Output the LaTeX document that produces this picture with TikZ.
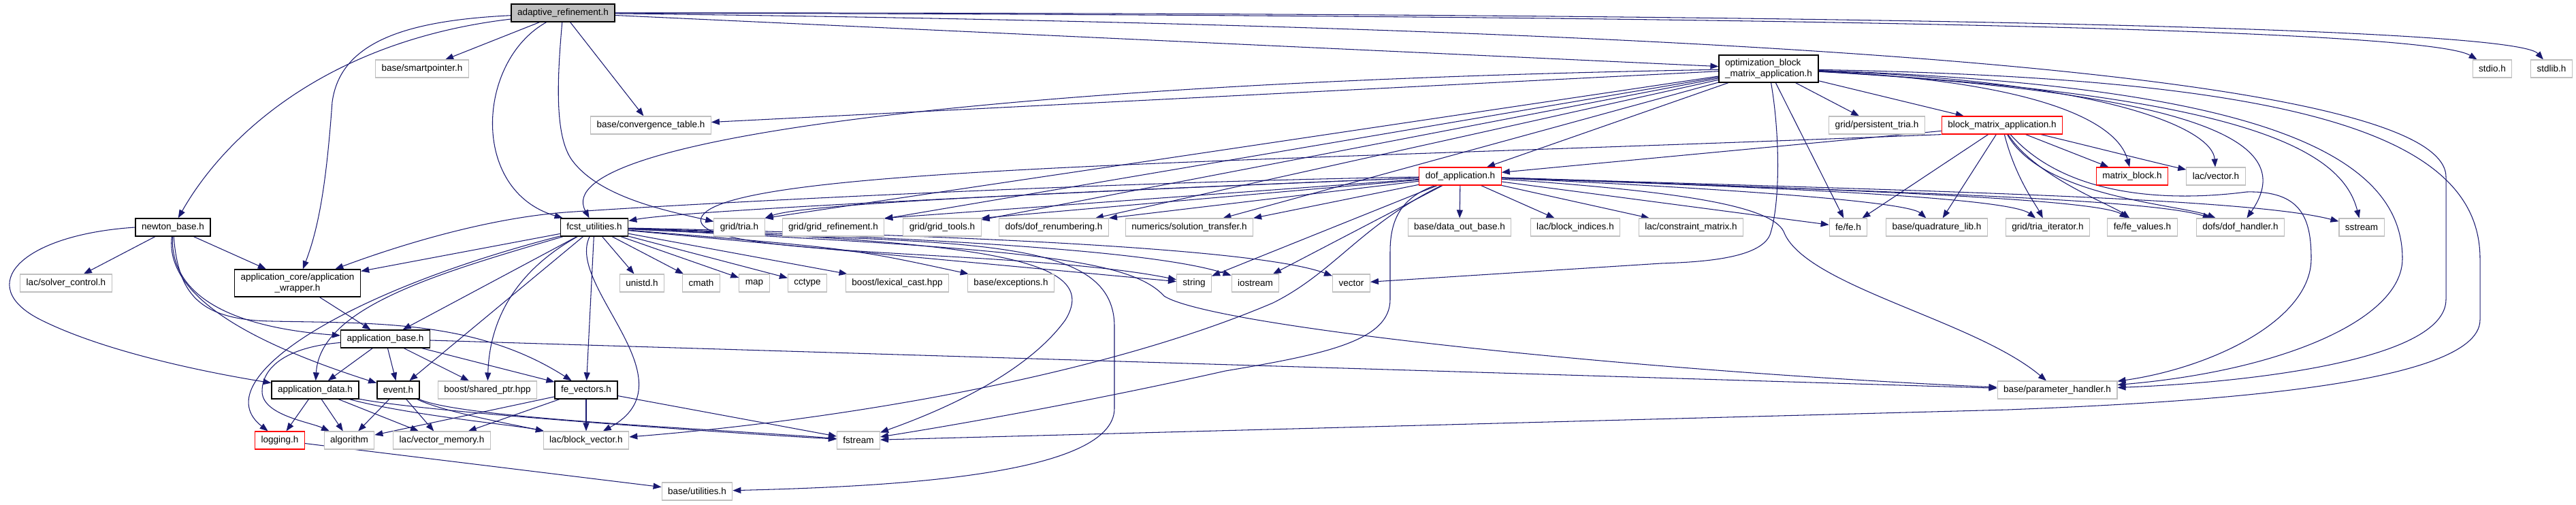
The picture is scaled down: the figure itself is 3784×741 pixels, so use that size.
\documentclass[tikz,border=0pt]{standalone}
\usepackage{fontspec}
\setmainfont{Liberation Sans}
\usetikzlibrary{arrows.meta}
\definecolor{dxblue}{HTML}{191970}
\definecolor{dxgray}{HTML}{BFBFBF}
\definecolor{dxred}{HTML}{FF0000}
\pgfdeclarelayer{bg}
\pgfsetlayers{bg,main}

\begin{document}
\begin{tikzpicture}[
  x=0.02cm, y=-0.02cm,
  hdr/.style={draw=#1, fill=white, line width=0.6pt, inner xsep=0.18cm,
              inner ysep=0pt, minimum height=0.52cm,
              font=\fontsize{7.7}{8.6}\selectfont, text=black},
  sysbox/.style={hdr=dxgray},
  docbox/.style={hdr=black, line width=0.8pt},
  redbox/.style={hdr=dxred, line width=0.7pt},
  rootbox/.style={hdr=black, line width=0.8pt, fill=dxgray},
  twoline/.style={minimum height=0.8cm},
  dep/.style={draw=dxblue, line width=0.6pt,
              -{Triangle[length=0.24cm, width=0.18cm]}},
]
\useasboundingbox (0,0) rectangle (3784,741);

%% ---- top rows ----
\node[rootbox] (adaptref) at (827,19) {adaptive\_refinement.h};
\node[sysbox] (smartptr) at (620,101) {base/smartpointer.h};
\node[docbox, twoline, align=left] (obma) at (2598,101)
  {optimization\_block\\\_matrix\_application.h};
\node[sysbox] (stdioh) at (3661,101) {stdio.h};
\node[sysbox] (stdlibh) at (3748,101) {stdlib.h};

\node[sysbox] (convtab) at (956,184) {base/convergence\_table.h};
\node[sysbox] (ptria) at (2757,184) {grid/persistent\_tria.h};
\node[redbox] (bma) at (2941,184) {block\_matrix\_application.h};

\node[redbox] (dofapp) at (2145,259) {dof\_application.h};
\node[redbox] (matblock) at (3132,259) {matrix\_block.h};
\node[sysbox] (lacvec) at (3255,259) {lac/vector.h};

%% ---- middle row ----
\node[docbox] (newton) at (254,334) {newton\_base.h};
\node[docbox] (fcst) at (873,334) {fcst\_utilities.h};
\node[sysbox] (tria) at (1086,334) {grid/tria.h};
\node[sysbox] (gridref) at (1224,334) {grid/grid\_refinement.h};
\node[sysbox] (gridtools) at (1384,334) {grid/grid\_tools.h};
\node[sysbox] (dofrenum) at (1548,334) {dofs/dof\_renumbering.h};
\node[sysbox] (soltrans) at (1747,334) {numerics/solution\_transfer.h};
\node[sysbox] (dataout) at (2144,334) {base/data\_out\_base.h};
\node[sysbox] (blockidx) at (2314,334) {lac/block\_indices.h};
\node[sysbox] (constr) at (2484,334) {lac/constraint\_matrix.h};
\node[sysbox] (fefe) at (2715,334) {fe/fe.h};
\node[sysbox] (quadlib) at (2845,334) {base/quadrature\_lib.h};
\node[sysbox] (triaiter) at (3008,334) {grid/tria\_iterator.h};
\node[sysbox] (fevals) at (3147,334) {fe/fe\_values.h};
\node[sysbox] (dofhandler) at (3291,334) {dofs/dof\_handler.h};
\node[sysbox] (sstream) at (3469,334) {sstream};

\node[sysbox] (solverctl) at (97,416) {lac/solver\_control.h};
\node[docbox, twoline, align=center] (appwrap) at (437,416)
  {application\_core/application\\\_wrapper.h};
\node[sysbox] (unistd) at (943,416) {unistd.h};
\node[sysbox] (cmath) at (1030,416) {cmath};
\node[sysbox] (map) at (1108,416) {map};
\node[sysbox] (cctype) at (1186,416) {cctype};
\node[sysbox] (lexcast) at (1318,416) {boost/lexical\_cast.hpp};
\node[sysbox] (except) at (1485,416) {base/exceptions.h};
\node[sysbox] (string) at (1754,416) {string};
\node[sysbox] (iostream) at (1844,416) {iostream};
\node[sysbox] (vector) at (1985,416) {vector};

%% ---- bottom rows ----
\node[docbox] (appbase) at (566,498) {application\_base.h};
\node[docbox] (appdata) at (463,573) {application\_data.h};
\node[docbox] (event) at (585,573) {event.h};
\node[sysbox] (sharedptr) at (716,573) {boost/shared\_ptr.hpp};
\node[docbox] (fevec) at (861,573) {fe\_vectors.h};
\node[sysbox] (paramh) at (3022,573) {base/parameter\_handler.h};

\node[redbox] (logging) at (411,647) {logging.h};
\node[sysbox] (algorithm) at (513,647) {algorithm};
\node[sysbox] (vecmem) at (649,647) {lac/vector\_memory.h};
\node[sysbox] (blockvec) at (861,647) {lac/block\_vector.h};
\node[sysbox] (fstream) at (1261,647) {fstream};
\node[sysbox] (utilities) at (1024,722) {base/utilities.h};

\begin{pgfonlayer}{bg}
%% ---- adaptive_refinement.h ----
\draw[dep] (adaptref) .. controls (480,60) and (330,200) .. (newton);
\draw[dep] (adaptref) -- (smartptr);
\draw[dep] (adaptref) .. controls (600,30) and (500,60) .. (488,150)
  .. controls (480,260) and (470,330) .. (appwrap);
\draw[dep] (adaptref) .. controls (700,90) and (690,280) .. (fcst);
\draw[dep] (adaptref) .. controls (818,120) and (815,200) .. (840,235)
  .. controls (880,290) and (980,310) .. (tria);
\draw[dep] (adaptref) -- (convtab);
\draw[dep] (adaptref) -- (obma);
\draw[dep] (adaptref) .. controls (2500,22) and (3560,40) .. (stdioh);
\draw[dep] (adaptref) .. controls (2500,18) and (3690,36) .. (stdlibh);
\draw[dep] (adaptref) .. controls (2600,40) and (3593,110) .. (3593,260)
  -- (3593,440) .. controls (3593,530) and (3300,562) .. (paramh);

%% ---- optimization_block_matrix_application.h ----
\draw[dep] (obma) -- (convtab);
\draw[dep] (obma) .. controls (1500,120) and (800,200) .. (fcst);
\draw[dep] (obma) -- (tria.north east);
\draw[dep] (obma) -- (gridref);
\draw[dep] (obma) -- (gridtools);
\draw[dep] (obma) -- (dofrenum);
\draw[dep] (obma) -- (soltrans);
\draw[dep] (obma) -- (dofapp);
\draw[dep] (obma) -- (ptria);
\draw[dep] (obma) -- (bma);
\draw[dep] (obma) -- (fefe);
\draw[dep] (obma) .. controls (2615,200) and (2615,300) .. (2600,345)
  .. controls (2585,380) and (2500,385) .. (2440,387) -- (vector);
\draw[dep] (obma) .. controls (3000,120) and (3110,180) .. (matblock);
\draw[dep] (obma) .. controls (3100,120) and (3250,190) .. (lacvec);
\draw[dep] (obma) .. controls (3280,140) and (3370,220) .. (dofhandler);
\draw[dep] (obma) .. controls (3300,140) and (3440,220) .. (sstream);
\draw[dep] (obma) .. controls (3300,125) and (3529,220) .. (3529,380)
  .. controls (3529,470) and (3350,545) .. (paramh);
\draw[dep] (obma) .. controls (3350,115) and (3643,190) .. (3643,380)
  -- (3643,470) .. controls (3643,570) and (3200,592) .. (2950,602)
  -- (fstream);

%% ---- block_matrix_application.h ----
\draw[dep] (bma) -- (dofapp);
\draw[dep] (bma) -- (fefe);
\draw[dep] (bma) -- (quadlib);
\draw[dep] (bma) .. controls (2960,260) and (2990,300) .. (triaiter);
\draw[dep] (bma) .. controls (2990,260) and (3100,300) .. (fevals);
\draw[dep] (bma) .. controls (3000,290) and (3200,300) .. (dofhandler);
\draw[dep] (bma) -- (matblock);
\draw[dep] (bma) .. controls (3050,210) and (3170,240) .. (lacvec);
\draw[dep] (bma) .. controls (3040,295) and (3200,295) .. (3300,282)
  .. controls (3380,280) and (3395,320) .. (3395,380)
  .. controls (3395,470) and (3250,540) .. (paramh);
\draw[dep] (bma.south west) .. controls (1800,240) and (1060,245) .. (1030,320)
  .. controls (1010,380) and (1500,365) .. (string);

%% ---- dof_application.h ----
\draw[dep] (dofapp) .. controls (1500,285) and (1000,310) .. (fcst);
\draw[dep] (dofapp) .. controls (1500,285) and (1180,300) .. (tria.north east);
\draw[dep] (dofapp) -- (gridref.north east);
\draw[dep] (dofapp) -- (gridtools.north east);
\draw[dep] (dofapp) -- (dofrenum.north east);
\draw[dep] (dofapp) -- (soltrans.north east);
\draw[dep] (dofapp) .. controls (1600,268) and (1000,300) .. (830,312)
  .. controls (700,322) and (560,370) .. (appwrap);
\draw[dep] (dofapp) -- (string);
\draw[dep] (dofapp) -- (iostream);
\draw[dep] (dofapp) .. controls (2000,330) and (1960,400) .. (1870,445)
  .. controls (1600,560) and (1200,620) .. (blockvec);
\draw[dep] (dofapp) .. controls (2060,290) and (2042,320) .. (2042,370)
  -- (2042,440) .. controls (2042,500) and (1950,520) .. (1800,545)
  .. controls (1600,590) and (1400,625) .. (fstream);
\draw[dep] (dofapp) -- (dataout);
\draw[dep] (dofapp) -- (blockidx);
\draw[dep] (dofapp) -- (constr);
\draw[dep] (dofapp) -- (fefe);
\draw[dep] (dofapp) .. controls (2500,275) and (2800,295) .. (quadlib);
\draw[dep] (dofapp) .. controls (2600,275) and (2950,290) .. (triaiter);
\draw[dep] (dofapp) .. controls (2700,278) and (3080,292) .. (fevals);
\draw[dep] (dofapp) .. controls (2700,280) and (3150,290) .. (dofhandler);
\draw[dep] (dofapp) .. controls (2800,280) and (3300,290) .. (sstream);
\draw[dep] (dofapp) .. controls (2450,280) and (2600,300) .. (2620,340)
  .. controls (2650,420) and (2900,470) .. (paramh);

%% ---- fcst_utilities.h ----
\draw[dep] (fcst) -- (appwrap);
\draw[dep] (fcst) -- (appbase);
\draw[dep] (fcst) .. controls (650,400) and (470,450) .. (appdata);
\draw[dep] (fcst) -- (event);
\draw[dep] (fcst) .. controls (500,430) and (300,560) .. (logging);
\draw[dep] (fcst) .. controls (790,380) and (720,440) .. (sharedptr);
\draw[dep] (fcst) -- (fevec);
\draw[dep] (fcst) .. controls (830,420) and (1020,560) .. (blockvec);
\draw[dep] (fcst) -- (unistd);
\draw[dep] (fcst) -- (cmath);
\draw[dep] (fcst) -- (map);
\draw[dep] (fcst) -- (cctype);
\draw[dep] (fcst) -- (lexcast);
\draw[dep] (fcst) .. controls (1250,365) .. (except);
\draw[dep] (fcst) -- (string);
\draw[dep] (fcst) .. controls (1400,350) and (1700,370) .. (iostream);
\draw[dep] (fcst) .. controls (1400,345) and (1850,365) .. (vector);
\draw[dep] (fcst) .. controls (1400,360) and (1637,340) .. (1637,480)
  -- (1637,600) .. controls (1637,700) and (1300,715) .. (utilities);
\draw[dep] (fcst) .. controls (1450,355) and (1620,380) .. (1565,470)
  .. controls (1500,560) and (1350,615) .. (fstream);
\draw[dep] (fcst) .. controls (1500,365) and (1660,380) .. (1710,435)
  .. controls (1780,480) and (2400,545) .. (paramh);

%% ---- newton_base.h ----
\draw[dep] (newton) -- (solverctl);
\draw[dep] (newton) -- (appwrap);
\draw[dep] (newton) .. controls (250,430) and (330,480) .. (appbase);
\draw[dep] (newton) .. controls (240,450) and (420,520) .. (event);
\draw[dep] (newton) .. controls (262,430) and (290,470) .. (400,472)
  .. controls (550,475) and (700,470) .. (fevec);
\draw[dep] (newton.west) .. controls (30,345) and (-40,420) .. (60,470)
  .. controls (160,520) and (320,550) .. (appdata);

%% ---- application layer ----
\draw[dep] (appwrap) -- (appbase);
\draw[dep] (appbase) -- (appdata);
\draw[dep] (appbase) -- (event);
\draw[dep] (appbase) -- (sharedptr);
\draw[dep] (appbase) -- (fevec);
\draw[dep] (appbase) -- (paramh);
\draw[dep] (appbase) .. controls (420,510) and (385,540) .. (385,575)
  .. controls (385,610) and (455,620) .. (algorithm);

\draw[dep] (appdata) -- (logging);
\draw[dep] (appdata) -- (algorithm);
\draw[dep] (appdata) -- (vecmem);
\draw[dep] (appdata) .. controls (600,610) and (760,625) .. (blockvec);
\draw[dep] (appdata) .. controls (620,605) and (1050,635) .. (fstream);

\draw[dep] (event) -- (algorithm);
\draw[dep] (event) -- (vecmem);
\draw[dep] (event) .. controls (650,605) and (760,625) .. (blockvec);
\draw[dep] (event) .. controls (680,615) and (1050,630) .. (fstream);

\draw[dep] (fevec) -- (algorithm);
\draw[dep] (fevec) -- (vecmem);
\draw[dep] (fevec) -- (blockvec);
\draw[dep] (fevec) -- (fstream);

\draw[dep] (logging) -- (utilities);
\end{pgfonlayer}

\end{tikzpicture}
\end{document}
